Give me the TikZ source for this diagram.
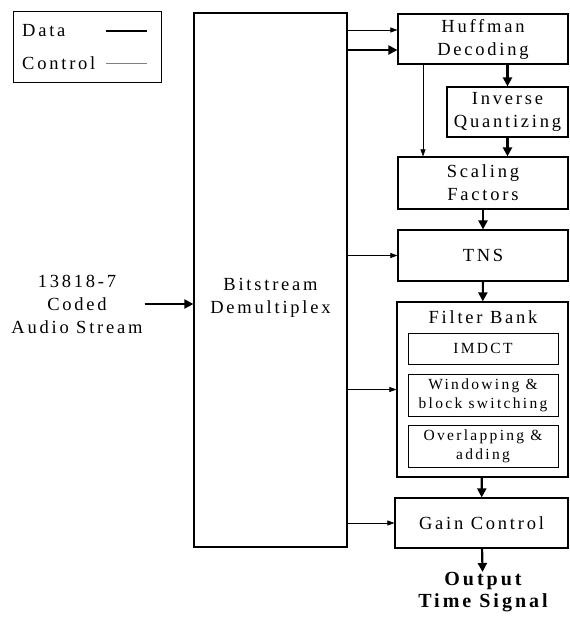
\documentclass[tikz,border=0pt]{standalone}
\usepackage{fontspec}
\setmainfont{Liberation Serif}[LetterSpace=15]
\usetikzlibrary{arrows.meta,positioning,calc}

\tikzset{
  blk/.style={draw, line width=1.2pt, align=center, inner sep=0pt,
              font=\fontsize{18.5}{23}\selectfont},
  subblk/.style={draw, line width=1pt, align=center, inner sep=0pt,
                 minimum width=150pt, font=\fontsize{15.5}{19}\selectfont},
  lbl/.style={align=center, inner sep=0pt, font=\fontsize{18.5}{23}\selectfont},
  dataflow/.style={line width=2.2pt, -{Triangle[length=9pt,width=9pt]}},
  ctrlflow/.style={line width=0.6pt, -{Triangle[length=7pt,width=5pt]}},
}

\begin{document}
\begin{tikzpicture}[x=1pt, y=-1pt]
    \useasboundingbox (0,0) rectangle (570,619);

    % legend
    \node[draw, line width=1pt, minimum width=148pt, minimum height=71pt,
          inner sep=0pt] (legend) at (87,46.5) {};
    \node[lbl, anchor=west] (datalbl) at (22,31) {Data};
    \node[lbl, anchor=west] (ctrllbl) at (22,63) {Control};
    \draw[line width=1.8pt] (106,31) -- (147,31);
    \draw[gray, line width=0.6pt] (106,63) -- (147,63);

    % blocks
    \node[blk, minimum width=153pt, minimum height=534pt] (demux) at (270.5,280) {};
    \node[lbl] (demuxlbl) at (270.5,298) {Bitstream\\Demultiplex};
    \node[blk, minimum width=170pt, minimum height=50pt] (huff) at (483,39)
         {Huffman\\Decoding};
    \node[blk, minimum width=121pt, minimum height=50pt] (invq) at (507.5,112)
         {Inverse\\Quantizing};
    \node[blk, minimum width=170pt, minimum height=52pt] (scal) at (483,183)
         {Scaling\\Factors};
    \node[blk, minimum width=170pt, minimum height=51pt] (tns) at (483,255.5) {TNS};
    \node[blk, minimum width=171pt, minimum height=175pt] (fbank) at (482.5,389.5) {};
    \node[lbl] (fbanklbl) at (483,317) {Filter Bank};
    \node[subblk, minimum height=31pt] (imdct) at (483,348.5) {IMDCT};
    \node[subblk, minimum height=42pt] (wind) at (483,395)
         {Windowing \&\\block switching};
    \node[subblk, minimum height=42pt] (olap) at (483,446)
         {Overlapping \&\\adding};
    \node[blk, minimum width=173pt, minimum height=50pt] (gain) at (481.5,523)
         {Gain Control};

    % input / output
    \node[lbl] (src) at (77,304) {13818-7\\Coded\\Audio Stream};
    \node[lbl, font=\bfseries\fontsize{20}{22}\selectfont] (out) at (483,592)
         {Output\\Time Signal};

    % data flow
    \draw[dataflow, line width=1.8pt] ([xshift=2pt]src.east) -- (src.east -| demux.west);
    \coordinate (hdata) at ([yshift=-11pt]huff.west);
    \draw[dataflow] (hdata -| demux.east) -- (hdata);
    \draw[dataflow] (invq.north |- huff.south) -- (invq.north);
    \draw[dataflow] (invq.south) -- (invq.south |- scal.north);
    \draw[dataflow] (scal) -- (tns);
    \draw[dataflow] (tns) -- (fbank);
    \draw[dataflow] (fbank) -- (gain);
    \draw[dataflow] (gain) -- (out);

    % control flow
    \coordinate (hctrl) at ([yshift=9pt]huff.west);
    \draw[ctrlflow] (hctrl -| demux.east) -- (hctrl);
    \coordinate (sctrl) at ([xshift=-60pt]huff.south);
    \draw[ctrlflow] (sctrl) -- (sctrl |- scal.north);
    \draw[ctrlflow] (demux.east |- tns.west) -- (tns.west);
    \draw[ctrlflow] (demux.east |- fbank.west) -- (fbank.west);
    \draw[ctrlflow] (demux.east |- gain.west) -- (gain.west);
\end{tikzpicture}
\end{document}
